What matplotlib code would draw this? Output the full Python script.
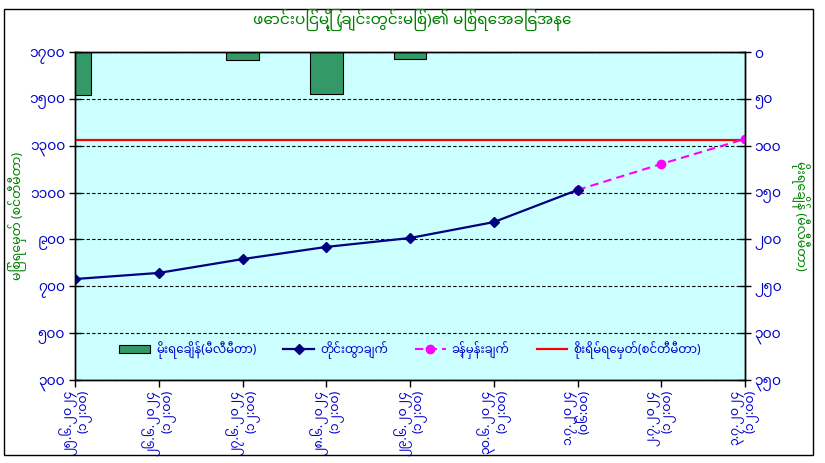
import matplotlib
matplotlib.use("Agg")
import matplotlib.pyplot as plt
import matplotlib.font_manager as fm
from matplotlib.patches import Rectangle, Patch
from matplotlib.lines import Line2D
import numpy as np

# ---------------- data ----------------
dates = ["၂၅.၆.၂၀၂၄", "၂၆.၆.၂၀၂၄", "၂၇.၆.၂၀၂၄", "၂၈.၆.၂၀၂၄", "၂၉.၆.၂၀၂၄",
         "၃၀.၆.၂၀၂၄", "၁.၇.၂၀၂၄", "၂.၇.၂၀၂၄", "၃.၇.၂၀၂၄"]
times = ["(၁၂:၀၀)", "(၁၂:၀၀)", "(၁၂:၀၀)", "(၁၂:၀၀)", "(၁၂:၀၀)",
         "(၁၂:၀၀)", "(၀၆:၀၀)", "(၁၂:၀၀)", "(၁၂:၀၀)"]
rainfall_mm = [46, 0, 9, 45, 7, 0, np.nan, np.nan, np.nan]
observed_cm = [731, 757, 816, 868, 906, 974, 1111, np.nan, np.nan]
forecast_cm = [np.nan, np.nan, np.nan, np.nan, np.nan, np.nan, 1111, 1222, 1329]
danger_cm = [1324] * 9
left_ticks = [300, 500, 700, 900, 1100, 1300, 1500, 1700]
right_ticks = [0, 50, 100, 150, 200, 250, 300, 350]

title = "ဖောင်းပြင်မြို့ (ချင်းတွင်းမြစ်)၏ မြစ်ရေအခြေအနေ"
left_label = "မြစ်ရေမှတ် (စင်တီမီတာ)"
right_label = "မိုးရေချိန် (မီလီမီတာ)"
legend_labels = ["မိုးရေချိန်(မီလီမီတာ)", "တိုင်းထွာချက်", "ခန့်မှန်းချက်",
                 "စိုးရိမ်ရေမှတ်(စင်တီမီတာ)"]

# ---------------- fonts ----------------
installed = {f.name for f in fm.fontManager.ttflist}
my_font = None
for name in ["Noto Sans Myanmar", "Noto Sans Myanmar UI", "Myanmar Sans Pro",
             "Myanmar Khyay"]:
    if name in installed:
        my_font = name
        break
families = ([my_font] if my_font else []) + ["DejaVu Sans"]
plt.rcParams['font.family'] = families

MY_DIGITS = "၀၁၂၃၄၅၆၇၈၉"
def to_my(n):
    return "".join(MY_DIGITS[int(c)] for c in str(int(n)))

# ---------------- figure ----------------
W, H = 825, 463
fig = plt.figure(figsize=(W / 100, H / 100), dpi=100)
fig.patch.set_facecolor("white")
fig.patches.append(Rectangle((4 / W, 1 - 455 / H), 809 / W, 446 / H,
                             transform=fig.transFigure, fill=False,
                             edgecolor="black", linewidth=1.0))

L, R, T, B = 75, 745, 52, 380
ax = fig.add_axes([L / W, 1 - B / H, (R - L) / W, (B - T) / H])
ax2 = ax.twinx()
ax.set_zorder(ax2.get_zorder() + 1)
ax.patch.set_visible(False)
ax2.patch.set_facecolor("#CCFFFF")
ax2.patch.set_visible(True)

x = np.arange(len(dates))
blue = "#0000CC"
green = "#008000"

# bars (secondary axis, inverted)
ax2.bar(x, np.nan_to_num(rainfall_mm), width=0.39, color="#339966",
        edgecolor="black", linewidth=0.8)
ax2.set_ylim(350, 0)
ax2.set_yticks(right_ticks)
ax2.set_yticklabels([to_my(v) for v in right_ticks], color=blue, fontsize=10)
ax2.set_ylabel(right_label, color=green, fontsize=9, fontweight="bold",
               rotation=-90, va="center", ha="center")
ax2.yaxis.set_label_coords(1.082, 0.5)

# lines
ax.plot(x, danger_cm, color="#FF0000", linewidth=1.6)
ax.plot(x, forecast_cm, color="#FF00FF", linestyle=(0, (4, 2.5)), linewidth=1.5,
        marker="o", markersize=6, markerfacecolor="#FF00FF", markeredgecolor="#FF00FF")
ax.plot(x, observed_cm, color="#000080", linewidth=1.6,
        marker="D", markersize=5, markerfacecolor="#000080", markeredgecolor="#000080")

ax.set_xlim(0, len(dates) - 1)
ax.set_ylim(300, 1700)
ax.set_yticks(left_ticks)
ax.set_yticklabels([to_my(v) for v in left_ticks], color=blue, fontsize=10)
ax.set_ylabel(left_label, color=green, fontsize=9, fontweight="bold",
              va="center", ha="center")
ax.yaxis.set_label_coords(-0.085, 0.5)
ax.yaxis.grid(True, color="black", linestyle=(0, (3, 2)), linewidth=0.8)
ax.set_axisbelow(True)

ax.set_xticks(x)
ax.set_xticklabels([d + "\n" + t for d, t in zip(dates, times)], rotation=90,
                   color=blue, fontsize=9, va="top", ha="center",
                   multialignment="right", linespacing=0.9)
ax2.set_xticks(x)

for a in (ax, ax2):
    for s in a.spines.values():
        s.set_color("black")
        s.set_linewidth(1.0)
ax.tick_params(axis="y", direction="inout", length=8, width=1, pad=3)
ax2.tick_params(axis="y", direction="inout", length=8, width=1, pad=3)
ax.tick_params(axis="x", direction="out", length=5, width=1, pad=2)

# legend
handles = [Patch(facecolor="#339966", edgecolor="black", linewidth=0.8),
           Line2D([], [], color="#000080", marker="D", markersize=5, linewidth=1.6),
           Line2D([], [], color="#FF00FF", marker="o", markersize=6,
                  linestyle=(0, (4, 2.5)), linewidth=1.5),
           Line2D([], [], color="#FF0000", linewidth=1.6)]
ax.legend(handles, legend_labels, loc="center", bbox_to_anchor=(0.5, 0.09),
          ncol=4, frameon=False, fontsize=8.5, columnspacing=2.3,
          handlelength=2.6, handletextpad=0.5,
          labelcolor=[blue] * 4)

fig.text(0.5, 1 - 20 / H, title, color=green, fontsize=11, fontweight="bold",
         ha="center", va="center")

fig.savefig("out.png", dpi=100, facecolor="white")
